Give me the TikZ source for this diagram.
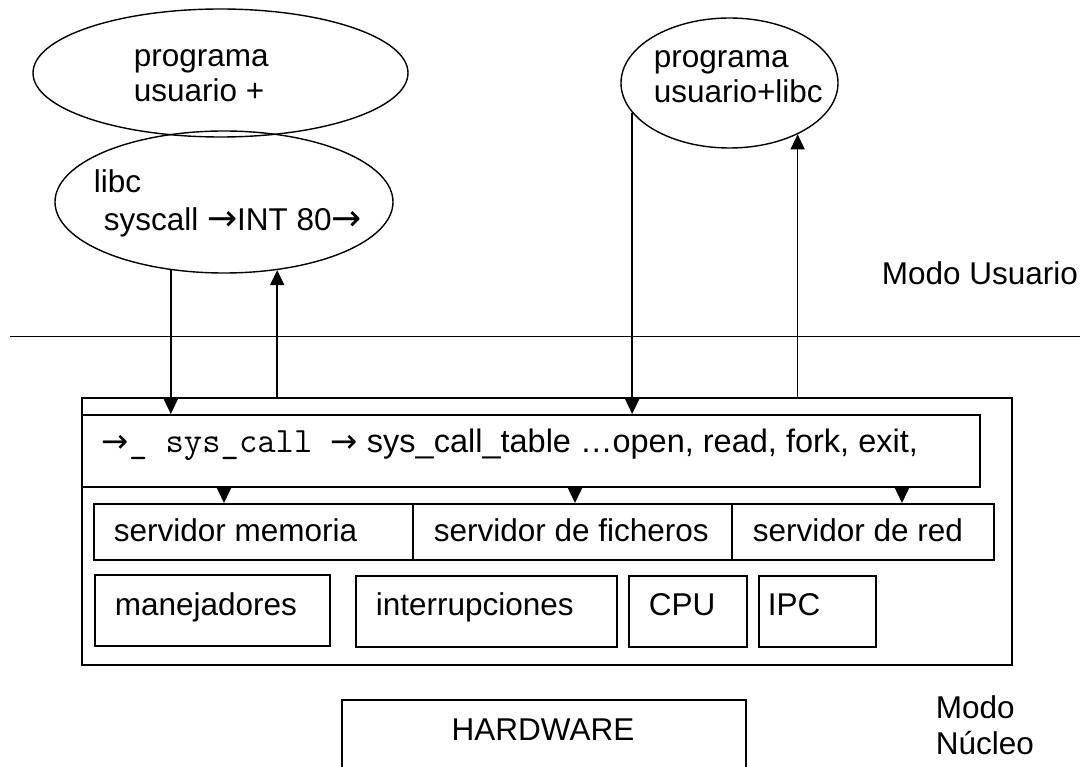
\documentclass[tikz,border=0pt]{standalone}
\usepackage{fontspec}
\setmainfont{Liberation Sans}
\newfontfamily\arrowfont{DejaVu Sans}
\usetikzlibrary{shapes.geometric, arrows.meta}
\begin{document}
\begin{tikzpicture}[x=1pt, y=-1pt, line width=1.6pt,
  font=\fontsize{31.5}{36}\selectfont,
  box/.style={draw, rectangle, inner sep=0pt, anchor=north west},
  ell/.style={draw, ellipse, inner sep=0pt, line width=1.4pt},
  txt/.style={anchor=base west, inner sep=0pt},
  arr/.style={-{Triangle[width=14pt,length=15pt]}, line width=1.6pt}]
\useasboundingbox (0,0) rectangle (1080,767);
\clip (0,0) rectangle (1080,767);
% user space
\node[ell, minimum width=375pt, minimum height=128pt] (e1) at (220.5,73) {};
\node[ell, minimum width=338pt, minimum height=142pt] (e2) at (224,202) {};
\node[ell, minimum width=217pt, minimum height=130pt] (e3) at (729.5,83) {};
\node[txt] (t1a) at (133,67) {programa};
\node[txt] (t1b) at (133,102) {usuario +};
\node[txt] (t2a) at (93,193) {libc};
\node[txt] (t2b) at (103,231) {syscall {\arrowfont\fontsize{36}{36}\selectfont →}INT 80{\arrowfont\fontsize{36}{36}\selectfont →}};
\node[txt] (t3a) at (653,68) {programa};
\node[txt] (t3b) at (653,103) {usuario+libc};
\node[txt] (mu) at (881,285) {Modo Usuario};
\coordinate (sl) at (10,336.7);
\coordinate (sr) at (1080,336.7);
\draw (sl) -- (sr);
% kernel
\node[box, minimum width=930pt, minimum height=267pt] (outer) at (81,397) {};
\node[box, minimum width=898pt, minimum height=72pt] (sc) at (81,414) {};
\node[txt, font=\fontsize{32.5}{36}\selectfont] (sct) at (101,453) {{\arrowfont →}{\fontsize{35.6}{36}\ttfamily\_ sys\_call }{\arrowfont →} sys\_call\_table \dots open, read, fork, exit,};
\node[box, minimum width=319pt, minimum height=56pt] (mem) at (93,503) {};
\node[box, minimum width=319pt, minimum height=56pt] (fic) at (412,503) {};
\node[box, minimum width=262pt, minimum height=56pt] (red) at (731,503) {};
\node[txt] (memt) at (113,541) {servidor memoria};
\node[txt] (fict) at (433,541) {servidor de ficheros};
\node[txt] (redt) at (752,541) {servidor de red};
\node[box, minimum width=235pt, minimum height=71pt] (man) at (94,574) {};
\node[box, minimum width=261pt, minimum height=71pt] (int) at (355,575) {};
\node[box, minimum width=118pt, minimum height=71pt] (cpu) at (628,575) {};
\node[box, minimum width=117pt, minimum height=71pt] (ipc) at (758,575) {};
\node[txt] (mant) at (114,615) {manejadores};
\node[txt] (intt) at (375,615) {interrupciones};
\node[txt] (cput) at (648,615) {CPU};
\node[txt] (ipct) at (767,615) {IPC};
% hardware
\node[box, minimum width=404pt, minimum height=100pt] (hw) at (341,699) {};
\node[anchor=base, inner sep=0pt] (hwt) at (543,740) {HARDWARE};
\node[txt] (mn1) at (935,718) {Modo};
\node[txt] (mn2) at (935,754) {Núcleo};
% connectors
\draw[arr] (e2.232) -- (e2.232 |- sc.north);
\draw[arr] (e2.308 |- outer.north) -- (e2.308);
\draw[arr] (e3.197) -- (e3.197 |- sc.north);
\draw[arr] (e3.323 |- outer.north) -- (e3.323);
\coordinate (a1) at (224,0);
\coordinate (a2) at (575,0);
\coordinate (a3) at (902,0);
\draw[arr] (sc.south -| a1) -- (mem.north -| a1);
\draw[arr] (sc.south -| a2) -- (fic.north -| a2);
\draw[arr] (sc.south -| a3) -- (red.north -| a3);
\end{tikzpicture}
\end{document}
